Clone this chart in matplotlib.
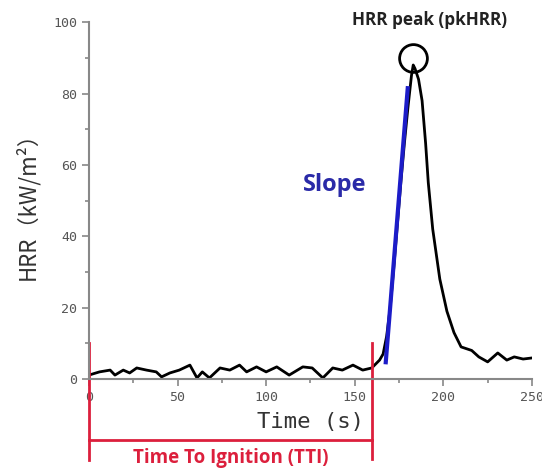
#!/usr/bin/env python3

import matplotlib.pyplot as plt

# HRR curve
time_s = [0, 6, 12, 14.7, 19.4, 23, 27, 32.5, 38, 41, 45.7, 51, 57, 61, 64, 68,
          74, 79.5, 85, 89, 94.6, 100, 106, 113, 120.7, 126, 132, 137.6, 143,
          149, 154.5, 159.6, 164, 166, 168, 170, 172, 174, 176, 178, 180, 182,
          183, 184, 186, 188, 190, 191.5, 194, 198, 202, 206, 210, 216, 220,
          225, 230.7, 235.8, 240, 245, 250]
hrr = [1.1, 2.0, 2.5, 1.1, 2.5, 1.7, 3.1, 2.5, 2.0, 0.6, 1.7, 2.5, 3.9, 0.3,
       2.0, 0.3, 3.1, 2.5, 3.9, 2.0, 3.4, 2.0, 3.4, 1.1, 3.4, 3.1, 0.3, 3.1,
       2.5, 3.9, 2.5, 3.1, 5.3, 7.0, 12, 20, 31, 43, 55, 66, 76, 85,
       88, 87, 84, 78, 66, 55, 42, 28, 19, 13, 9.0, 8.0, 6.2,
       4.8, 7.3, 5.3, 6.2, 5.6, 5.9]

slope_t = [167.5, 179.9]
slope_hrr = [4.7, 81.5]

peak_t = 183
peak_hrr = 90
tti = 159.6

red = '#dc1f3c'

fig = plt.figure(figsize=(5.42, 4.72), dpi=100)
ax = fig.add_axes([0.164, 0.197, 0.8175, 0.756])

ax.plot(time_s, hrr, color='black', lw=2)
ax.plot(slope_t, slope_hrr, color='#1c1cc8', lw=3)
ax.plot([peak_t], [peak_hrr], marker='o', ms=20, mfc='none', mec='black',
        mew=2, clip_on=False)

ax.set_xlim(0, 250)
ax.set_ylim(0, 100)
ax.set_xticks([0, 50, 100, 150, 200, 250])
ax.set_xticks([25, 75, 125, 175, 225], minor=True)
ax.set_yticks([0, 20, 40, 60, 80, 100])
ax.set_yticks([10, 30, 50, 70, 90], minor=True)
for s in ['top', 'right']:
    ax.spines[s].set_visible(False)
for s in ['left', 'bottom']:
    ax.spines[s].set_color('#888888')
    ax.spines[s].set_linewidth(1.5)
ax.tick_params(which='both', direction='out', color='#888888', width=1.2,
               labelcolor='#555555', labelsize=9.5)
ax.tick_params(which='major', length=5)
ax.tick_params(which='minor', length=3)
for lab in ax.get_xticklabels() + ax.get_yticklabels():
    lab.set_family('DejaVu Sans Mono')

ax.set_xlabel('Time (s)', family='DejaVu Sans Mono', fontsize=16,
              color='#333333', labelpad=6)
ax.set_ylabel('HRR（kW/m²）', family=['Noto Sans CJK SC', 'DejaVu Sans'],
              fontsize=16, color='#333333', labelpad=10)

# TTI bracket below the axis
ax.plot([0, 0], [10, -22.7], color=red, lw=2, clip_on=False)
ax.plot([tti, tti], [10, -22.3], color=red, lw=2, clip_on=False)
ax.plot([0, tti], [-17.1, -17.1], color=red, lw=2, clip_on=False)
ax.text(tti / 2, -22.2, 'Time To Ignition (TTI)', color=red, fontsize=13.5,
        fontweight='bold', family='Open Sans', ha='center', va='center',
        clip_on=False)

ax.text(192.3, 100.6, 'HRR peak (pkHRR)', fontsize=12.3, fontweight='bold',
        family='Open Sans', ha='center', va='center', color='#222222')
ax.text(138.7, 54.3, 'Slope', fontsize=17, fontweight='bold',
        family='Open Sans', ha='center', va='center', color='#2a2aa8')

fig.savefig('out.png', dpi=100)
